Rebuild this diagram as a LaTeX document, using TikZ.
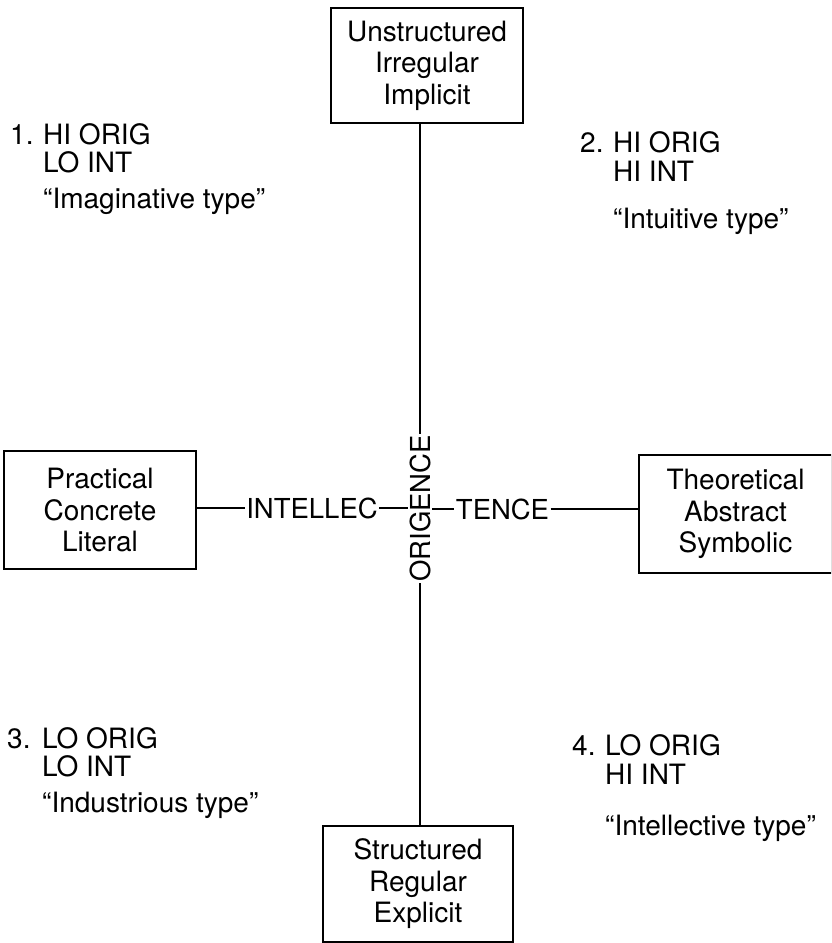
\documentclass[tikz,border=0pt]{standalone}
\usepackage{fontspec}
\setmainfont{TeX Gyre Heros}
\begin{document}
\begin{tikzpicture}[x=1pt,y=-1pt,
  box/.style={draw, line width=1.3pt, align=center, inner sep=0pt,
    font=\fontsize{28}{31.5}\selectfont},
  lbl/.style={inner sep=1.5pt, font=\fontsize{27.5}{30}\selectfont},
  qtext/.style={anchor=base west, inner sep=0pt,
    font=\fontsize{28}{29}\selectfont},
  conn/.style={line width=1.3pt}]
\useasboundingbox (0,0) rectangle (831,943);
\clip (0,0) rectangle (831,943);
% boxes
\node[box, minimum width=192pt, minimum height=115pt] (top) at (427,65.5) {Unstructured\\Irregular\\Implicit};
\node[box, minimum width=192pt, minimum height=118pt] (left) at (100,510) {Practical\\Concrete\\Literal};
\node[box, minimum width=193pt, minimum height=118pt] (right) at (735.5,514) {Theoretical\\Abstract\\Symbolic};
\node[box, minimum width=190pt, minimum height=116pt] (bottom) at (418,884) {Structured\\Regular\\Explicit};
% axis labels
\node[lbl, rotate=90] (orig) at (420,508.5) {ORIGENCE};
\node[lbl] (intellec) at (312,508) {INTELLEC};
\node[lbl] (tence) at (502.5,509) {TENCE};
% connectors
\draw[conn] (orig.east) -- (orig.east |- top.south);
\draw[conn] (orig.west) -- (orig.west |- bottom.north);
\draw[conn] (left.east |- intellec.west) -- (intellec.west);
\draw[conn] (intellec.east) -- (orig.north |- intellec.east);
\draw[conn] (orig.south |- tence.west) -- (tence.west);
\draw[conn] (tence.east) -- (right.west |- tence.east);
% quadrant 1
\node[qtext] (n1) at (10,144) {1.};
\node[qtext] (q1a) at (43,144) {HI ORIG};
\node[qtext] (q1b) at (43,172) {LO INT};
\node[qtext] (q1c) at (43,208) {“Imaginative type”};
% quadrant 2
\node[qtext] (n2) at (580,152) {2.};
\node[qtext] (q2a) at (613,152) {HI ORIG};
\node[qtext] (q2b) at (613,181) {HI INT};
\node[qtext] (q2c) at (613,228) {“Intuitive type”};
% quadrant 3
\node[qtext] (n3) at (7,748) {3.};
\node[qtext] (q3a) at (42,748) {LO ORIG};
\node[qtext] (q3b) at (42,776) {LO INT};
\node[qtext] (q3c) at (42,812) {“Industrious type”};
% quadrant 4
\node[qtext] (n4) at (572,755) {4.};
\node[qtext] (q4a) at (605,755) {LO ORIG};
\node[qtext] (q4b) at (605,784) {HI INT};
\node[qtext] (q4c) at (605,835) {“Intellective type”};
\end{tikzpicture}
\end{document}
